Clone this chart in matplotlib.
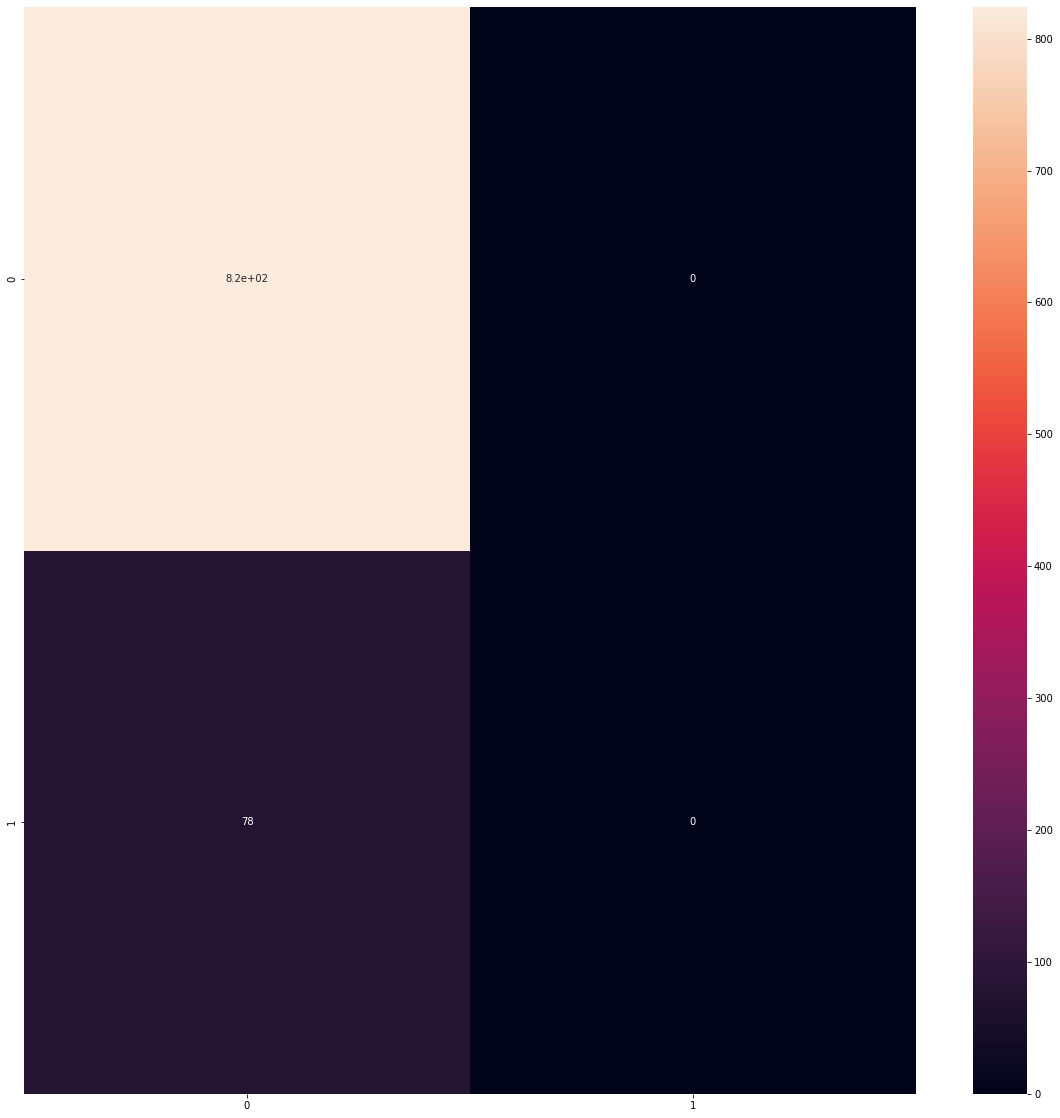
import numpy as np
import matplotlib
matplotlib.use("Agg")
import matplotlib.pyplot as plt
import seaborn as sns

# confusion matrix values
row0 = [824, 0]
row1 = [78, 0]
cm = np.array([row0, row1])

fig = plt.figure(figsize=(1060 / 72, 1118 / 72), dpi=72)
ax = fig.add_axes([24 / 1060, 24 / 1118, 892 / 1060, 1087 / 1118])
cax = fig.add_axes([973 / 1060, 24 / 1118, 54 / 1060, 1087 / 1118])

sns.heatmap(cm, annot=True, ax=ax, cbar_ax=cax)

fig.savefig("out.png", dpi=72)
